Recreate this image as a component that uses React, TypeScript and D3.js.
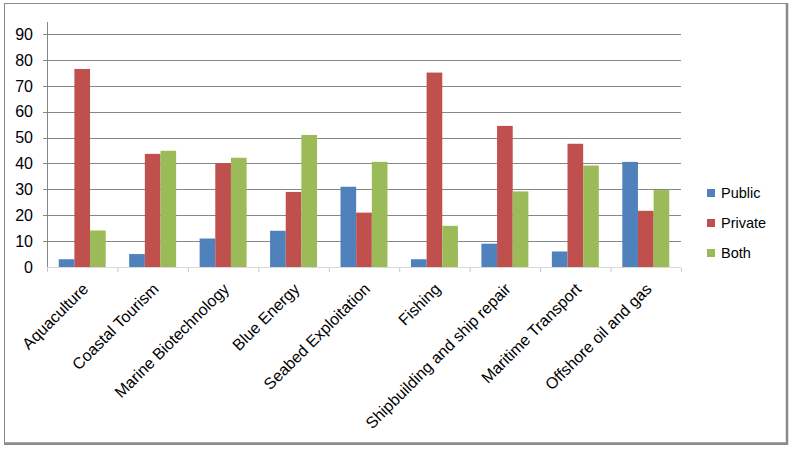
import React from "react";
import * as d3 from "d3";

const categories = [
  "Aquaculture",
  "Coastal Tourism",
  "Marine Biotechnology",
  "Blue Energy",
  "Seabed Exploitation",
  "Fishing",
  "Shipbuilding and ship repair",
  "Maritime Transport",
  "Offshore oil and gas",
];
const seriesNames = ["Public", "Private", "Both"];
const publicVals = [3, 5, 11, 14, 31, 3, 9, 6, 40.6];
const privateVals = [76.5, 43.7, 40.1, 29, 21, 75.1, 54.5, 47.6, 21.7];
const bothVals = [14.1, 44.9, 42.2, 51, 40.6, 15.9, 29.2, 39.2, 29.7];
const yTicks = [0, 10, 20, 30, 40, 50, 60, 70, 80, 90];
const colors = ["#4F81BD", "#C0504D", "#9BBB59"];

export default function App() {
  const W = 794, H = 451;
  const left = 47, right = 681, top = 34, bottom = 267;
  const series = [publicVals, privateVals, bothVals];

  const x = d3.scaleBand<string>().domain(categories).range([left, right]).paddingInner(1 / 3).paddingOuter(1 / 6);
  const x1 = d3.scaleBand<string>().domain(seriesNames).range([0, x.bandwidth()]).padding(0);
  const y = d3.scaleLinear().domain([0, 90]).range([bottom, top]);
  const step = x.step();
  const font = "'Liberation Sans', Arial, sans-serif";

  return (
    <svg width={W} height={H} style={{ position: "absolute", left: 0, top: 0 }} fontFamily={font}>
      <rect x={0} y={0} width={W} height={H} fill="#fff" />
      {/* frame */}
      <rect x={4.5} y={3.5} width={782} height={439.5} fill="none" stroke="#8a8a8a" strokeWidth={1} />
      <line x1={787} y1={3} x2={787} y2={445} stroke="#8a8a8a" strokeWidth={2.5} />
      <line x1={4} y1={443.8} x2={788} y2={443.8} stroke="#8a8a8a" strokeWidth={2.5} />

      {/* gridlines */}
      {yTicks.filter(t => t > 0).map(t => (
        <line key={t} x1={left - 4} x2={right} y1={Math.round(y(t)) + 0.5} y2={Math.round(y(t)) + 0.5} stroke="#868686" strokeWidth={1} />
      ))}
      {/* y axis */}
      <line x1={left + 0.5} x2={left + 0.5} y1={22} y2={bottom} stroke="#868686" />
      {/* x axis */}
      <line x1={left} x2={right} y1={bottom + 0.5} y2={bottom + 0.5} stroke="#d9d9d9" />
      {d3.range(categories.length + 1).map(i => (
        <line key={i} x1={left + i * step + 0.5} x2={left + i * step + 0.5} y1={bottom + 1} y2={bottom + 5} stroke="#c8c8c8" />
      ))}
      {/* y tick labels */}
      {yTicks.map(t => (
        <text key={t} x={33} y={y(t)} dy="0.36em" textAnchor="end" fontSize={16} fill="#000">{t}</text>
      ))}

      {/* bars */}
      {categories.map((c, i) => (
        <g key={c} transform={`translate(${x(c)},0)`}>
          {series.map((s, j) => (
            <rect key={j} x={x1(seriesNames[j])} y={y(s[i])} width={x1.bandwidth()} height={y(0) - y(s[i])} fill={colors[j]} />
          ))}
        </g>
      ))}

      {/* x labels */}
      {categories.map(c => {
        const cx = (x(c) as number) + x.bandwidth() / 2;
        return (
          <text key={c} transform={`translate(${cx + 7},${290}) rotate(-45)`} textAnchor="end" fontSize={16} fill="#000">{c}</text>
        );
      })}

      {/* legend */}
      {seriesNames.map((n, j) => (
        <g key={n} transform={`translate(707,${193 + j * 30})`}>
          <rect x={0} y={-4} width={8} height={8} fill={colors[j]} />
          <text x={14} y={0} dy="0.36em" fontSize={14.5} fill="#000">{n}</text>
        </g>
      ))}
    </svg>
  );
}
